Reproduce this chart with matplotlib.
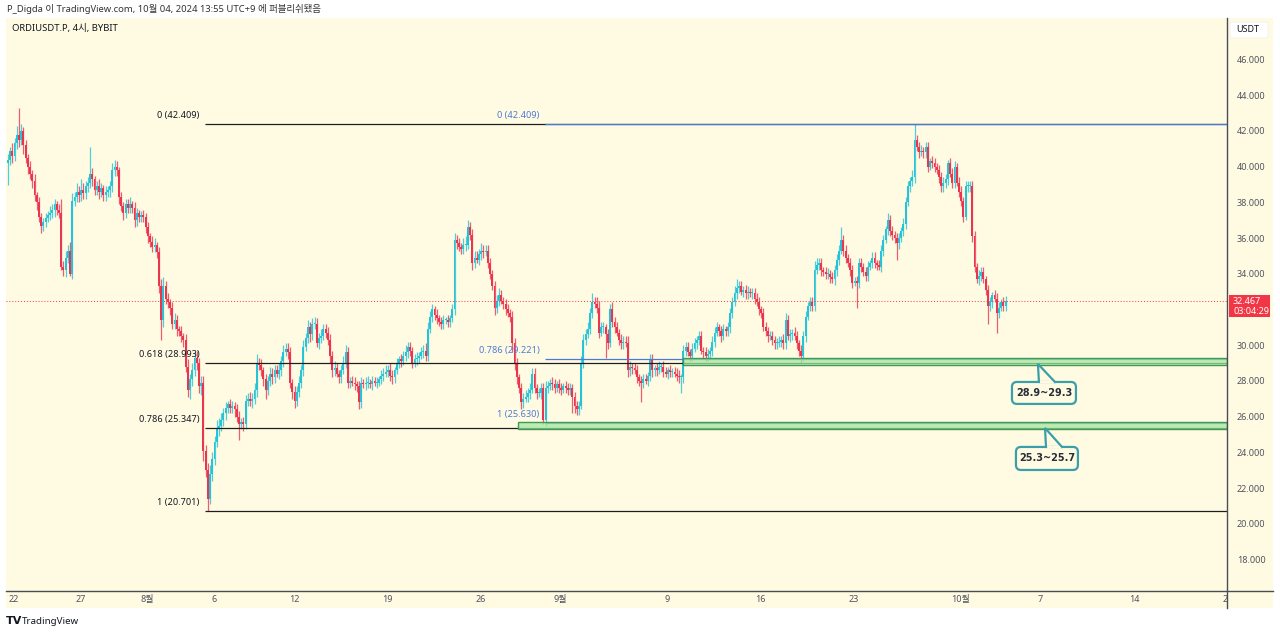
import matplotlib
matplotlib.use('Agg')
import matplotlib.pyplot as plt
import matplotlib.dates as mdates
from matplotlib.patches import Rectangle, FancyBboxPatch, Polygon
from matplotlib.lines import Line2D
from matplotlib.transforms import IdentityTransform
import numpy as np
from datetime import datetime

plt.rcParams['font.family'] = ['Noto Sans', 'Noto Sans CJK KR', 'DejaVu Sans']

# ---------------- data ----------------
candle_start = datetime(2024, 7, 21, 13)   # 4h candles (KST)
first_open = 40.2
closes = [
    40.4, 40.9, 40.6, 41.3, 41.8, 41.5, 42.0, 41.2, 40.5, 40.0, 39.6, 39.2,
    38.4, 38.0, 37.2, 36.7, 36.9, 37.1, 37.3, 37.4, 37.6, 37.9, 37.6, 37.4,
    34.4, 34.2, 34.9, 35.3, 34.0, 38.1, 38.3, 38.6, 38.4, 38.7, 38.5, 38.9,
    39.1, 39.6, 39.3, 38.7, 38.9, 38.6, 38.8, 38.4, 38.6, 38.7, 38.9, 39.8,
    40.0, 39.8, 38.3, 37.8, 37.4, 37.9, 37.7, 37.9, 37.7, 37.0, 37.4, 37.2,
    37.3, 37.2, 36.6, 36.1, 35.8, 35.5, 35.6, 35.2, 33.3, 31.4, 33.3, 32.6,
    32.4, 32.1, 31.2, 31.4, 30.9, 30.8, 30.5, 30.3, 28.8, 27.5, 28.1, 28.6,
    29.3, 29.0, 27.7, 27.9, 24.1, 23.0, 21.4, 22.8, 23.6, 24.6, 25.3, 25.5,
    25.8, 26.2, 26.5, 26.7, 26.5, 26.6, 26.4, 26.0, 25.6, 25.7, 25.6, 26.9,
    27.0, 26.9, 27.0, 27.5, 29.0, 28.9, 28.6, 28.1, 27.5, 28.0, 28.4, 28.2,
    28.6, 28.4, 28.6, 29.1, 29.6, 29.8, 29.6, 27.9, 27.4, 26.9, 27.4, 27.9,
    28.6, 29.9, 30.4, 31.0, 30.6, 31.2, 31.2, 30.1, 30.4, 30.5, 30.9, 30.7,
    30.3, 29.4, 28.6, 28.7, 28.4, 28.2, 28.6, 29.0, 29.6, 27.9, 28.0, 27.9,
    27.8, 27.7, 26.8, 27.9, 27.8, 27.9, 27.9, 27.8, 28.0, 27.9, 27.9, 28.1, 28.3,
    28.4, 28.5, 28.6, 28.3, 28.2, 28.6, 29.0, 29.2, 29.1, 29.4, 29.6, 29.9,
    29.7, 29.0, 29.2, 29.3, 29.4, 29.6, 29.7, 29.4, 30.9, 31.6, 32.0, 31.7,
    31.5, 31.3, 31.2, 31.4, 31.4, 31.3, 31.5, 32.0, 35.9, 35.7, 35.5, 35.4,
    35.6, 35.6, 36.6, 36.2, 34.6, 34.9, 34.8, 35.1, 35.3, 35.2, 35.3, 34.6,
    34.0, 33.3, 32.1, 32.5, 32.8, 32.5, 32.3, 32.0, 31.8, 31.6, 30.1, 29.0,
    28.2, 27.6, 26.8, 27.0, 27.1, 27.3, 27.5, 28.4, 27.6, 27.3, 27.3, 27.6,
    25.8, 27.6, 27.7, 27.9, 27.8, 27.6, 27.8, 27.6, 27.5, 27.7, 27.6, 27.5,
    27.6, 27.1, 26.6, 26.4, 26.6, 29.0, 30.3, 30.6, 30.9, 31.8, 32.4, 32.3,
    32.1, 30.7, 31.0, 31.0, 30.6, 30.1, 32.0, 31.3, 31.0, 30.7, 30.3, 30.1,
    30.2, 30.1, 28.6, 28.8, 28.7, 28.6, 28.2, 28.0, 27.9, 28.1, 28.0, 28.3,
    29.2, 28.6, 28.7, 28.6, 28.8, 28.8, 28.5, 28.4, 28.6, 28.5, 28.5, 28.4, 28.3,
    28.2, 28.2, 29.7, 29.9, 29.6, 29.4, 29.8, 30.1, 30.3, 30.5, 29.7, 29.6,
    29.4, 29.5, 29.7, 30.2, 30.7, 31.0, 30.8, 30.5, 30.9, 30.8, 31.0, 31.8,
    32.4, 32.9, 33.2, 33.3, 33.0, 33.1, 32.9, 33.0, 32.9, 32.9, 32.6, 32.4,
    32.0, 31.8, 31.0, 30.8, 30.5, 30.5, 30.3, 30.1, 30.1, 30.2, 30.3, 30.1,
    31.4, 30.5, 30.6, 30.7, 30.5, 30.1, 29.7, 29.4, 30.5, 31.6, 32.2, 32.4,
    32.2, 34.2, 34.5, 34.6, 34.2, 34.1, 34.0, 34.0, 33.8, 33.7, 34.2, 34.8,
    35.3, 35.9, 35.3, 34.9, 34.6, 34.2, 33.5, 33.6, 33.5, 34.6, 34.4, 34.1,
    33.9, 34.4, 34.6, 34.9, 34.6, 34.5, 34.4, 35.3, 35.9, 36.5, 37.0, 36.4,
    36.2, 36.0, 35.7, 36.0, 36.4, 36.8, 38.0, 38.9, 39.2, 39.4, 41.5, 41.1,
    40.8, 40.9, 40.8, 41.1, 40.0, 40.3, 40.2, 40.0, 39.8, 39.4, 38.9, 39.1,
    39.3, 40.2, 39.6, 39.1, 40.0, 39.1, 38.6, 38.1, 37.2, 38.9, 38.9, 38.9,
    36.1, 34.4, 33.7, 33.9, 34.1, 33.7, 33.1, 32.2, 32.4, 32.8, 32.6, 31.8,
    32.1, 32.4, 32.2, 32.467,
]
# upper / lower wick lengths in tenths of USDT
wick_up = [
    3, 2, 4, 3, 5, 15, 4, 2, 3, 2, 3, 2,
    4, 2, 3, 2, 2, 3, 2, 4, 3, 3, 2, 3,
    8, 3, 4, 3, 5, 4, 3, 5, 3, 6, 4, 3,
    3, 15, 3, 2, 3, 4, 3, 2, 3, 2, 3, 4,
    4, 3, 2, 3, 2, 3, 3, 4, 2, 3, 3, 2,
    2, 3, 2, 3, 2, 3, 4, 2, 3, 4, 5, 3,
    3, 2, 3, 4, 3, 2, 3, 2, 3, 4, 3, 4,
    3, 4, 3, 4, 4, 3, 4, 5, 4, 3, 5, 4,
    4, 3, 3, 2, 3, 3, 2, 3, 3, 2, 3, 3,
    3, 4, 3, 4, 5, 3, 3, 2, 3, 3, 4, 3,
    3, 3, 4, 3, 4, 3, 3, 3, 2, 3, 3, 4,
    3, 4, 3, 4, 3, 3, 4, 3, 3, 4, 3, 3,
    3, 3, 3, 4, 3, 2, 3, 4, 4, 3, 2, 3,
    3, 2, 3, 3, 2, 3, 4, 2, 3, 2, 3, 2, 3,
    3, 4, 3, 4, 3, 2, 3, 2, 3, 3, 4, 3,
    3, 2, 3, 3, 2, 3, 3, 4, 4, 3, 3, 2,
    3, 2, 3, 3, 2, 3, 2, 3, 4, 3, 3, 2,
    4, 5, 4, 3, 3, 4, 4, 3, 4, 3, 3, 3,
    3, 2, 3, 3, 4, 3, 2, 3, 3, 2, 3, 3,
    3, 2, 3, 3, 4, 3, 4, 3, 3, 2, 3, 3,
    3, 4, 3, 2, 3, 3, 2, 3, 3, 2, 3, 3,
    3, 2, 3, 3, 3, 4, 3, 3, 4, 3, 5, 3,
    4, 4, 3, 3, 2, 3, 3, 4, 3, 3, 2, 3,
    3, 3, 4, 3, 2, 3, 3, 2, 3, 3, 3, 2,
    3, 3, 2, 3, 3, 2, 3, 3, 2, 3, 2, 3, 3,
    3, 2, 3, 3, 3, 2, 3, 3, 2, 3, 3, 2,
    3, 3, 2, 3, 3, 3, 2, 3, 3, 2, 3, 3,
    3, 4, 5, 3, 3, 2, 3, 3, 2, 3, 3, 3,
    3, 2, 3, 3, 2, 3, 3, 2, 3, 3, 2, 3,
    4, 3, 3, 2, 3, 3, 2, 3, 3, 3, 2, 3,
    3, 5, 4, 3, 3, 2, 3, 3, 2, 3, 3, 3,
    3, 7, 3, 3, 2, 3, 3, 2, 3, 3, 3, 2,
    3, 3, 2, 3, 3, 2, 3, 3, 3, 2, 4, 3,
    3, 2, 3, 3, 2, 3, 3, 3, 2, 4, 9, 3,
    3, 3, 2, 3, 3, 2, 3, 3, 2, 3, 3, 3,
    3, 2, 3, 3, 3, 2, 3, 3, 2, 3, 3, 3,
    3, 3, 2, 3, 3, 3, 2, 3, 3, 2, 3, 3,
    3, 2, 3, 3,
]
wick_dn = [
    12, 3, 4, 3, 3, 4, 3, 5, 3, 4, 3, 4,
    3, 4, 3, 4, 3, 3, 2, 3, 3, 4, 3, 3,
    2, 3, 4, 3, 1, 3, 3, 3, 4, 3, 3, 3,
    3, 3, 4, 3, 3, 4, 3, 3, 3, 3, 4, 3,
    3, 3, 4, 3, 4, 3, 3, 3, 3, 4, 3, 3,
    3, 3, 3, 4, 3, 3, 3, 3, 4, 11, 4, 3,
    3, 4, 3, 3, 4, 3, 3, 4, 3, 4, 5, 4,
    3, 4, 4, 5, 6, 4, 7, 3, 4, 3, 3, 4,
    3, 3, 4, 3, 3, 3, 4, 3, 9, 3, 4, 3,
    3, 3, 4, 3, 4, 3, 3, 4, 5, 3, 3, 4,
    3, 2, 3, 3, 3, 2, 4, 3, 4, 4, 3, 3,
    3, 3, 2, 3, 4, 3, 3, 2, 3, 3, 2, 3,
    3, 4, 4, 3, 2, 3, 3, 2, 3, 3, 3, 2,
    3, 3, 4, 3, 2, 3, 3, 2, 3, 2, 3, 2, 3,
    3, 2, 3, 3, 4, 3, 2, 3, 3, 2, 3, 3,
    3, 3, 2, 3, 3, 2, 3, 3, 3, 2, 3, 3,
    3, 2, 3, 3, 2, 3, 3, 2, 3, 3, 2, 3,
    3, 3, 2, 3, 4, 3, 2, 3, 3, 3, 2, 3,
    3, 2, 4, 3, 3, 2, 3, 3, 2, 3, 5, 4,
    4, 3, 4, 3, 2, 3, 3, 2, 3, 3, 2, 3,
    2, 3, 3, 2, 3, 3, 2, 3, 3, 2, 3, 3,
    3, 9, 4, 3, 3, 2, 3, 3, 2, 3, 3, 2,
    3, 3, 2, 3, 13, 3, 2, 3, 3, 2, 3, 3,
    3, 2, 4, 3, 3, 2, 3, 3, 11, 3, 2, 3,
    3, 4, 3, 3, 2, 3, 3, 2, 3, 3, 3, 2, 3,
    3, 9, 3, 3, 2, 3, 3, 2, 3, 3, 2, 3,
    3, 3, 2, 3, 3, 2, 3, 3, 2, 3, 3, 3,
    3, 2, 3, 3, 2, 3, 3, 3, 2, 3, 3, 2,
    3, 3, 2, 3, 3, 2, 3, 3, 3, 2, 3, 3,
    3, 2, 3, 3, 2, 3, 3, 4, 3, 3, 2, 3,
    3, 3, 2, 3, 3, 2, 3, 3, 3, 2, 3, 3,
    3, 2, 3, 3, 2, 3, 3, 2, 14, 3, 3, 2,
    3, 3, 2, 3, 3, 3, 2, 3, 3, 2, 3, 3,
    3, 3, 9, 3, 2, 3, 3, 2, 3, 3, 3, 2,
    3, 2, 3, 3, 3, 2, 3, 3, 2, 3, 3, 3,
    3, 3, 2, 3, 3, 2, 3, 3, 3, 2, 3, 3,
    3, 3, 2, 3, 3, 2, 3, 10, 3, 3, 2, 11,
    3, 2, 3, 3,
]
last_price = 32.467

price_ticks = [18, 20, 22, 24, 26, 28, 30, 34, 36, 38, 40, 42, 44, 46]
time_ticks = ['2024-07-22', '2024-07-27', '2024-08-01', '2024-08-06', '2024-08-12',
              '2024-08-19', '2024-08-26', '2024-09-01', '2024-09-09', '2024-09-16',
              '2024-09-23', '2024-10-01', '2024-10-07', '2024-10-14', '2024-10-21']
time_labels = ['22', '27', '8월', '6', '12', '19', '26', '9월', '9', '16', '23',
               '10월', '7', '14', '21']

# Fibonacci retracement 1 (black)
fib1_start = '2024-08-05T07:50'
fib1_levels = [42.409, 28.993, 25.347, 20.701]
fib1_labels = ['0 (42.409)', '0.618 (28.993)', '0.786 (25.347)', '1 (20.701)']
# Fibonacci retracement 2 (blue)
fib2_start = '2024-08-30T20:00'
fib2_levels = [42.409, 29.221, 25.630]
fib2_labels = ['0 (42.409)', '0.786 (29.221)', '1 (25.630)']
# Support zones
zones = [('2024-09-10T04:20', 28.9, 29.3, '28.9~29.3'),
         ('2024-08-28T19:10', 25.3, 25.7, '25.3~25.7')]
# callout: (tip date, tip price, box left date, box right date, box top price, box bottom price)
callouts = [('2024-10-06T19:10', 28.95, '2024-10-04T20:25', '2024-10-09T15:35', 27.94, 26.71),
            ('2024-10-07T07:55', 25.36, '2024-10-05T03:35', '2024-10-09T19:10', 24.30, 23.01)]

# ---------------- styles ----------------
W, H = 1280, 634
CREAM = '#fffbe3'
UP = '#26c2d8'
DOWN = '#ea3450'
BLUE = '#4f79d6'
TEXT = '#131722'
AXTXT = '#50535e'
LINE = '#4b4d55'
ZONE_FC = '#a6e8a0'
ZONE_EC = '#3e9a57'
TEAL = '#3a9fa8'

def fx(px):
    return px / W

def fy(py):
    return 1 - py / H

def d(s):
    return mdates.date2num(np.datetime64(s))

fig = plt.figure(figsize=(12.8, 6.34), dpi=100)
fig.patch.set_facecolor('white')
fig.patches.append(Rectangle((fx(6), fy(608)), fx(1273) - fx(6), fy(18) - fy(608),
                             transform=fig.transFigure, facecolor=CREAM,
                             edgecolor='none', zorder=-10))

ax = fig.add_axes([fx(6), fy(591), fx(1227) - fx(6), fy(18) - fy(591)])
ax.set_facecolor('none')
for s in ax.spines.values():
    s.set_visible(False)

xlim = (d('2024-07-21T09:36'), d('2024-10-20T23:30'))
ax.set_xlim(*xlim)
ax.set_ylim(16.23, 48.33)

# ---------------- candles ----------------
c = np.array(closes)
o = np.array([first_open] + closes[:-1])
hi = np.maximum(o, c) + np.array(wick_up) / 10
lo = np.minimum(o, c) - np.array(wick_dn) / 10
x0 = mdates.date2num(candle_start)
xs = x0 + np.arange(len(c)) / 6.0
up = c >= o
for mask, col in ((up, UP), (~up, DOWN)):
    ax.vlines(xs[mask], lo[mask], hi[mask], color=col, lw=0.9, alpha=0.8, zorder=2)
    ax.bar(xs[mask], np.maximum(np.abs(c - o), 0.06)[mask], bottom=np.minimum(o, c)[mask],
           width=0.85 / 6, color=col, linewidth=0, zorder=3)

# ---------------- fib lines ----------------
for lv, lb in zip(fib1_levels, fib1_labels):
    ax.hlines(lv, d(fib1_start), xlim[1], color='#1e1e1e', lw=0.9, zorder=4)
    ax.annotate(lb, (d(fib1_start), lv), xytext=(-4, 3), textcoords='offset points',
                ha='right', va='bottom', fontsize=6.6, color=TEXT, zorder=6)
for lv, lb in zip(fib2_levels, fib2_labels):
    ax.hlines(lv, d(fib2_start), xlim[1], color=BLUE, lw=0.9, zorder=4)
    ax.annotate(lb, (d(fib2_start), lv), xytext=(-4, 3), textcoords='offset points',
                ha='right', va='bottom', fontsize=6.6, color=BLUE, zorder=6)

# ---------------- zones ----------------
for start, lo_z, hi_z, _ in zones:
    ax.add_patch(Rectangle((d(start), lo_z), xlim[1] - d(start), hi_z - lo_z,
                           facecolor=ZONE_FC, alpha=0.75, edgecolor='none', zorder=5))
    ax.add_patch(Rectangle((d(start), lo_z), xlim[1] - d(start), hi_z - lo_z,
                           facecolor='none', edgecolor=ZONE_EC, lw=1.0, zorder=5))

# current price line
ax.axhline(last_price, color='#f23645', lw=0.7, ls=(0, (1, 2)), zorder=4)

# ---------------- axes ticks ----------------
ax.yaxis.tick_right()
ax.set_yticks(price_ticks)
ax.set_yticklabels([f'{v:.3f}' for v in price_ticks])
ax.tick_params(axis='y', length=0, pad=7, labelsize=6.5, labelcolor=AXTXT)
ax.set_xticks([])

fig.canvas.draw()
tr = ax.transData

# callouts (pixel space)
for (tip_d, tip_p, bl_d, br_d, bt_p, bb_p), (_, _, _, txt) in zip(callouts, zones):
    tx, ty = tr.transform((d(tip_d), tip_p))
    lx, top = tr.transform((d(bl_d), bt_p))
    rx, bot = tr.transform((d(br_d), bb_p))
    box = FancyBboxPatch((lx, bot), rx - lx, top - bot,
                         boxstyle='round,pad=0,rounding_size=5',
                         transform=IdentityTransform(), facecolor=CREAM,
                         edgecolor=TEAL, lw=1.6, zorder=8)
    fig.patches.append(box)
    b1 = tx + 1
    b2 = tx + 17
    fig.patches.append(Polygon([(tx, ty), (b1, top + 1.5), (b2, top + 1.5)], closed=True,
                               transform=IdentityTransform(), facecolor=CREAM,
                               edgecolor='none', zorder=9))
    fig.patches.append(Polygon([(b1, top - 1.5), (b1, top + 1), (b2, top + 1), (b2, top - 1.5)],
                               closed=True, transform=IdentityTransform(), facecolor=CREAM,
                               edgecolor='none', zorder=9))
    fig.lines.append(Line2D([b1, tx, b2], [top, ty, top], transform=IdentityTransform(),
                            color=TEAL, lw=1.6, zorder=10, solid_joinstyle='miter'))
    fig.text((lx + rx) / 2 / W, (top + bot) / 2 / H, txt, ha='center', va='center',
             fontsize=7, fontweight='bold', color='#2a2e39', zorder=11,
             family=['DejaVu Sans'])

# time axis strip
axt = fig.add_axes([fx(6), fy(608), fx(1227) - fx(6), fy(591) - fy(608)])
axt.set_xlim(*xlim)
axt.set_ylim(0, 1)
axt.axis('off')
for t, lb in zip(time_ticks, time_labels):
    axt.text(d(t), 0.5, lb, ha='center', va='center', fontsize=6.5, color=AXTXT,
             clip_on=False)
# price-scale corner covers the part of the last date label beyond the plot
fig.patches.append(Rectangle((1227.5, H - 607.5), 45, 16, transform=IdentityTransform(),
                             facecolor=CREAM, edgecolor='none', zorder=5))

# axis lines
fig.lines.append(Line2D([fx(1227), fx(1227)], [fy(18), fy(608)], transform=fig.transFigure,
                        color=LINE, lw=1.0, zorder=6))
fig.lines.append(Line2D([fx(6), fx(1273)], [fy(591), fy(591)], transform=fig.transFigure,
                        color=LINE, lw=1.0, zorder=6))

# price label on axis
_, py = tr.transform((xlim[1], last_price))
fig.patches.append(Rectangle((1228.5, py - 16), 41, 22.5, transform=IdentityTransform(),
                             facecolor='#f23645', edgecolor='none', zorder=8))
fig.text(1233 / W, py / H, f'{last_price:.3f}', ha='left', va='center', fontsize=6.5,
         color='white', zorder=9)
fig.text(1233 / W, (py - 10.5) / H, '03:04:29', ha='left', va='center', fontsize=6.5,
         color='white', zorder=9)

# USDT box
fig.patches.append(FancyBboxPatch((1230, H - 38), 38, 16, boxstyle='round,pad=0,rounding_size=2',
                                  transform=IdentityTransform(), facecolor='white',
                                  edgecolor='#eeeeee', lw=0.5, zorder=8))
fig.text(1236 / W, fy(30), 'USDT', ha='left', va='center', fontsize=6.5, color=TEXT, zorder=9)

# header / footer
fig.text(fx(7), fy(9), 'P_Digda 이 TradingView.com, 10월 04, 2024 13:55 UTC+9 에 퍼블리쉬됐음',
         ha='left', va='center', fontsize=6.8, color='#333333')
fig.text(fx(12), fy(29), 'ORDIUSDT.P, 4시, BYBIT', ha='left', va='center', fontsize=6.8,
         color=TEXT)
fig.text(fx(6), fy(621), 'TV', ha='left', va='center', fontsize=8, fontweight='bold',
         color=TEXT, family=['DejaVu Sans'])
fig.text(fx(22), fy(621), 'TradingView', ha='left', va='center', fontsize=7, color=TEXT)

fig.savefig('out.png', dpi=100, facecolor='white')
